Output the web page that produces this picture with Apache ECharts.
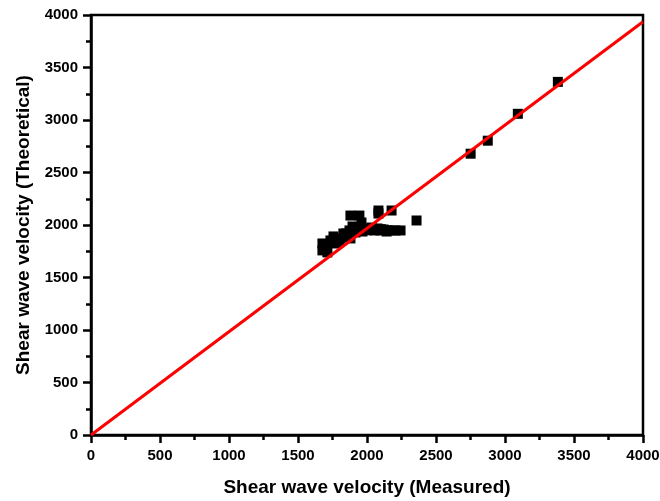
<!DOCTYPE html>
<html>
<head>
<meta charset="utf-8">
<script src="https://cdn.jsdelivr.net/npm/echarts@6/dist/echarts.min.js"></script>
<style>
  html, body { margin: 0; padding: 0; background: #fff; }
  #chart { width: 660px; height: 501px; }
</style>
</head>
<body>
<div id="chart"></div>
<script>
// measured vs theoretical shear wave velocity
const measured = [
  1677, 1677, 1691, 1713, 1735, 1757, 1779, 1808, 1829, 1851,
  1873, 1880, 1895, 1917, 1938, 1960, 1967, 1989, 2011, 2033,
  2054, 2076, 2098, 2120, 2142, 2171, 2207, 2243,
  1700, 1750, 1800, 1850, 1900, 1950, 2000, 2100, 2150,
  1880, 1945, 2083, 2083, 2178, 2359,
  2751, 2875, 3093, 3383
]
const theoretical = [
  1824, 1758, 1796, 1739, 1853, 1891, 1824, 1872, 1919, 1891,
  1948, 1872, 1986, 1929, 1957, 2024, 1938, 1967, 1957, 1976,
  1948, 1967, 1948, 1957, 1938, 1948, 1948, 1948,
  1800, 1830, 1850, 1920, 1940, 1960, 1950, 1960, 1950,
  2090, 2090, 2138, 2109, 2138, 2043,
  2679, 2803, 3059, 3363
]
// fitted line end points
const lineX = [0, 4000]
const lineY = [0, 3936]

const points = measured.map((m, i) => [m, theoretical[i]])
const fitLine = lineX.map((x, i) => [x, lineY[i]])

const chart = echarts.init(document.getElementById('chart'))

const axisCommon = {
  type: 'value',
  min: 0,
  max: 4000,
  interval: 500,
  nameLocation: 'middle',
  nameTextStyle: {
    color: '#000',
    fontSize: 19,
    fontWeight: 'bold',
    fontFamily: 'Liberation Sans'
  },
  axisLine: { show: true, lineStyle: { color: '#000', width: 2.5 } },
  axisTick: { show: true, length: 8, lineStyle: { color: '#000', width: 2.5 } },
  minorTick: { show: true, splitNumber: 2, length: 5, lineStyle: { color: '#000', width: 2.5 } },
  axisLabel: {
    color: '#000',
    fontSize: 15,
    fontWeight: 'bold',
    fontFamily: 'Liberation Sans',
    margin: 13,
    formatter: v => String(v)
  },
  splitLine: { show: false }
}

chart.setOption({
  backgroundColor: '#fff',
  animation: false,
  grid: {
    left: 91,
    right: 17,
    top: 15,
    bottom: 66,
    outerBoundsMode: 'none',
    containLabel: false,
    show: true,
    borderColor: '#000',
    borderWidth: 2.5
  },
  xAxis: Object.assign({}, axisCommon, {
    name: 'Shear wave velocity (Measured)',
    nameGap: 43
  }),
  yAxis: Object.assign({}, axisCommon, {
    name: 'Shear wave velocity (Theoretical)',
    nameGap: 57
  }),
  series: [
    {
      type: 'scatter',
      data: points,
      symbol: 'rect',
      symbolSize: 10,
      itemStyle: { color: '#000', opacity: 1 },
      z: 2
    },
    {
      type: 'line',
      data: fitLine,
      symbol: 'none',
      lineStyle: { color: '#ff0000', width: 3 },
      z: 3
    }
  ]
})
</script>
</body>
</html>
